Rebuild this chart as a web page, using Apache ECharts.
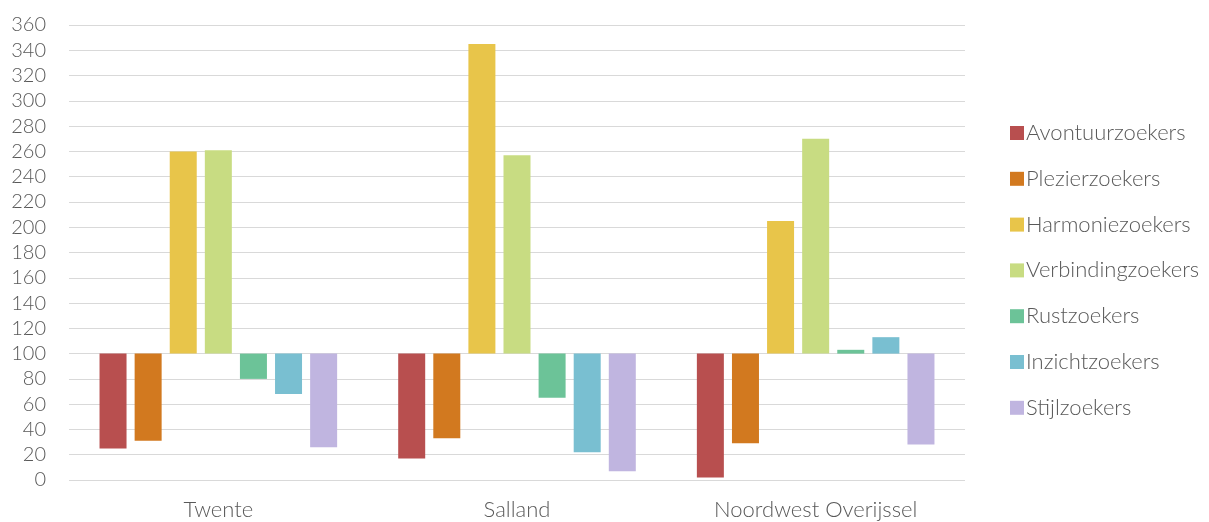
<!DOCTYPE html>
<html>
<head>
<meta charset="utf-8">
<script src="https://cdn.jsdelivr.net/npm/echarts@6/dist/echarts.min.js"></script>
<style>
html,body{margin:0;padding:0;background:#fff;}
#chart{width:1209px;height:522px;}
</style>
</head>
<body>
<div id="chart"></div>
<script>
const regions = ['Twente', 'Salland', 'Noordwest Overijssel'];
const typeNames = ['Avontuurzoekers', 'Plezierzoekers', 'Harmoniezoekers', 'Verbindingzoekers', 'Rustzoekers', 'Inzichtzoekers', 'Stijlzoekers'];
const avontuurzoekers = [25, 17, 2];
const plezierzoekers = [31, 33, 29];
const harmoniezoekers = [260, 345, 205];
const verbindingzoekers = [261, 257, 270];
const rustzoekers = [80, 65, 103];
const inzichtzoekers = [68, 22, 113];
const stijlzoekers = [26, 7, 28];
const baseline = 100;
const yTicks = [0, 20, 40, 60, 80, 100, 120, 140, 160, 180, 200, 220, 240, 260, 280, 300, 320, 340, 360];

const seriesValues = [avontuurzoekers, plezierzoekers, harmoniezoekers, verbindingzoekers, rustzoekers, inzichtzoekers, stijlzoekers];
const colors = ['#b84f4f', '#d2791f', '#e8c54a', '#c8dc82', '#6cc398', '#79bfd1', '#c0b5e0'];

const FONT = 'Lato';
const series = [];
typeNames.forEach((name, i) => {
  const vals = seriesValues[i];
  series.push({
    name: '_base' + i,
    type: 'bar',
    stack: 's' + i,
    barWidth: 27,
    barGap: '30%',
    itemStyle: { color: 'transparent' },
    emphasis: { disabled: true },
    silent: true,
    data: vals.map(v => Math.min(v, baseline))
  });
  series.push({
    name: name,
    type: 'bar',
    stack: 's' + i,
    barWidth: 27,
    barGap: '30%',
    itemStyle: { color: colors[i] },
    data: vals.map(v => Math.abs(v - baseline))
  });
});

const chart = echarts.init(document.getElementById('chart'), null, { renderer: 'canvas' });
chart.setOption({
  animation: false,
  grid: { left: 69, right: 244, top: 25, bottom: 42, containLabel: false },
  legend: {
    data: typeNames,
    orient: 'vertical',
    left: 1005,
    top: 117,
    itemWidth: 14,
    itemHeight: 14,
    itemGap: 23.8,
    icon: 'rect',
    textStyle: { fontFamily: FONT, fontSize: 22, fontWeight: 300, color: '#595959', lineHeight: 22, padding: [0, 0, 0, -3] }
  },
  xAxis: {
    type: 'category',
    data: regions,
    axisLine: { show: false },
    axisTick: { show: false },
    axisLabel: { fontFamily: FONT, fontSize: 22, fontWeight: 300, color: '#595959', margin: 19 }
  },
  yAxis: {
    type: 'value',
    min: yTicks[0],
    max: yTicks[yTicks.length - 1],
    interval: 20,
    axisLine: { show: false },
    axisTick: { show: false },
    splitLine: { lineStyle: { color: '#d9d9d9', width: 1 } },
    axisLabel: { fontFamily: FONT, fontSize: 20, fontWeight: 300, color: '#595959', margin: 23 }
  },
  series: series
});
</script>
</body>
</html>
